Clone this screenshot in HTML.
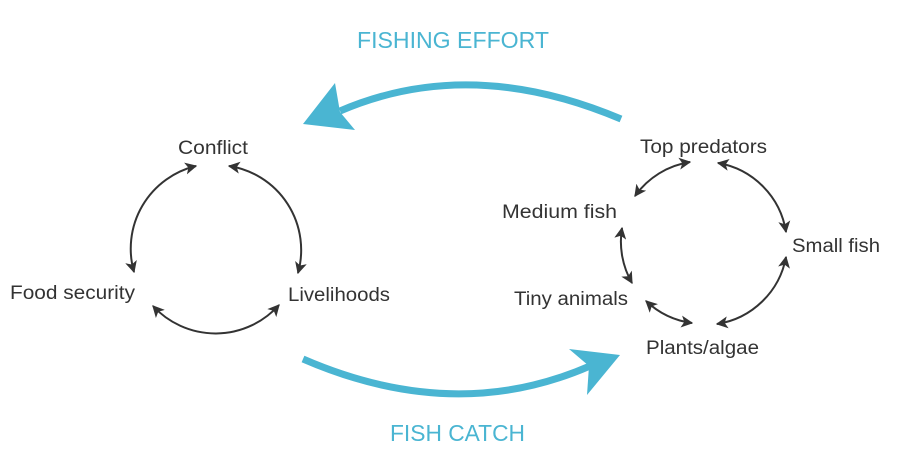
<!DOCTYPE html>
<html><head><style>
body{margin:0;background:#fff;}
svg{display:block;font-family:"Liberation Sans",sans-serif;}
.t{font-size:19px;fill:#333;}
.b{font-size:23px;fill:#4ab5d2;}
.a{fill:none;stroke:#333;stroke-width:2;marker-start:url(#m);marker-end:url(#m);}
</style></head><body>
<svg width="908" height="467" viewBox="0 0 908 467">
<defs>
<marker id="m" viewBox="0 0 10 10" refX="9" refY="5" markerWidth="6" markerHeight="6" orient="auto-start-reverse" markerUnits="strokeWidth">
<path d="M0,0 L10,5 L0,10 L2.5,5 Z" fill="#333"/>
</marker>
</defs>
<text class="b" x="357" y="48" textLength="192" lengthAdjust="spacingAndGlyphs">FISHING EFFORT</text>
<text class="b" x="390" y="441" textLength="135" lengthAdjust="spacingAndGlyphs">FISH CATCH</text>
<path d="M621,119 Q470,55 340,111" fill="none" stroke="#4ab5d2" stroke-width="7"/>
<path d="M303,124 L335,83 L340,112 L355,130 Z" fill="#4ab5d2"/>
<path d="M303,359 Q455,425 590,366" fill="none" stroke="#4ab5d2" stroke-width="7"/>
<path d="M569,349 L620,355 L587,395 L589,366 Z" fill="#4ab5d2"/>

<text class="t" x="178" y="154" textLength="70" lengthAdjust="spacingAndGlyphs">Conflict</text>
<text class="t" x="10" y="299" textLength="125" lengthAdjust="spacingAndGlyphs">Food security</text>
<text class="t" x="288" y="301" textLength="102" lengthAdjust="spacingAndGlyphs">Livelihoods</text>
<path class="a" d="M196,166 A85,85 0 0 0 134,272"/>
<path class="a" d="M229,166 A85,85 0 0 1 298,273"/>
<path class="a" d="M153,306 A85,85 0 0 0 279,305"/>

<text class="t" x="640" y="153" textLength="127" lengthAdjust="spacingAndGlyphs">Top predators</text>
<text class="t" x="502" y="218" textLength="115" lengthAdjust="spacingAndGlyphs">Medium fish</text>
<text class="t" x="792" y="252" textLength="88" lengthAdjust="spacingAndGlyphs">Small fish</text>
<text class="t" x="514" y="305" textLength="114" lengthAdjust="spacingAndGlyphs">Tiny animals</text>
<text class="t" x="646" y="354" textLength="113" lengthAdjust="spacingAndGlyphs">Plants/algae</text>
<path class="a" d="M635,196 A83,83 0 0 1 690,162"/>
<path class="a" d="M718,163 A83,83 0 0 1 786,232"/>
<path class="a" d="M786,257 A83,83 0 0 1 717,324"/>
<path class="a" d="M646,301 A83,83 0 0 0 692,323"/>
<path class="a" d="M622,228 A83,83 0 0 0 632,283"/>
</svg>
</body></html>
